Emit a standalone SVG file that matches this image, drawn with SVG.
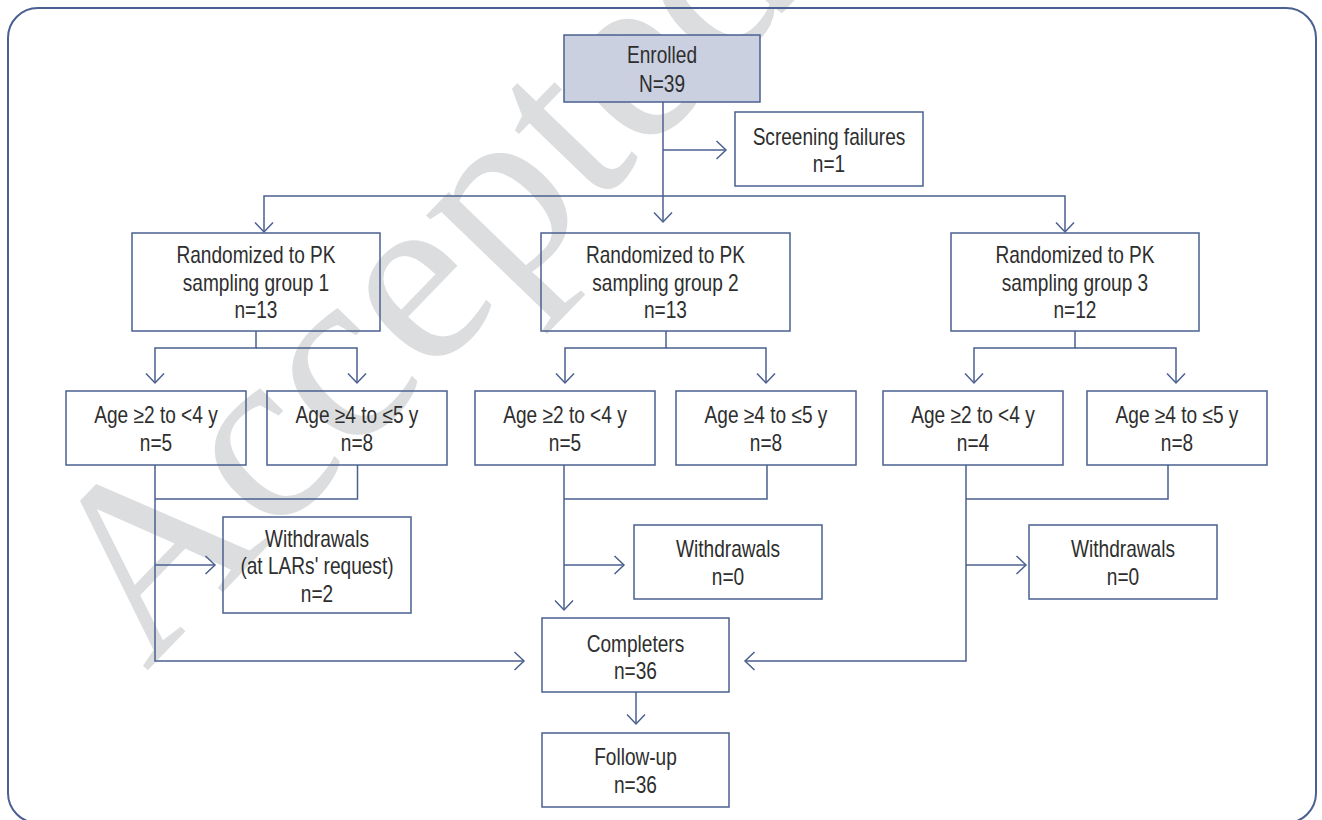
<svg xmlns="http://www.w3.org/2000/svg" width="1322" height="820" viewBox="0 0 1322 820">
<style>
.wm{font-family:"Liberation Serif","Times New Roman",serif;font-size:252px;fill:#dcdddf}
.box{fill:none;stroke:#4a6090;stroke-width:1.5}
.enr{fill:#cbd0e1;stroke:#4a6090;stroke-width:1.5}
.t{font-family:"Liberation Sans Narrow","Arial Narrow","Liberation Sans",sans-serif;font-size:23px;fill:#2e2e2e;text-anchor:middle}
.c{fill:none;stroke:#4a6090;stroke-width:1.5}
.a{marker-end:url(#ah)}
</style>
<defs>
<marker id="ah" markerUnits="userSpaceOnUse" markerWidth="14" markerHeight="22" viewBox="-12 -11 14 22" refX="0" refY="0" orient="auto">
<path d="M-9.5,-9 L0,0 L-9.5,9" fill="none" stroke="#4a6090" stroke-width="1.5"/>
</marker>
</defs>
<rect width="1322" height="820" fill="#ffffff"/>
<text class="wm" transform="translate(146,672) rotate(-46)">Accepted</text>
<rect x="8" y="8" width="1308" height="815" rx="30" ry="30" fill="none" stroke="#4a6090" stroke-width="2"/>
<g id="connectors">
<path class="c a" d="M663,102 V222"/>
<path class="c a" d="M663,150 H726"/>
<path class="c a" d="M663,196 H264 V232"/>
<path class="c a" d="M663,196 H1065 V232"/>
<path class="c a" d="M256,331 V348 H155 V383"/>
<path class="c a" d="M256,348 H357 V383"/>
<path class="c a" d="M666,331 V348 H565 V383"/>
<path class="c a" d="M666,348 H766 V383"/>
<path class="c a" d="M1075,331 V348 H974 V383"/>
<path class="c a" d="M1075,348 H1176 V383"/>
<path class="c" d="M357.5,465 V499 H155"/>
<path class="c a" d="M155,465 V661 H524"/>
<path class="c a" d="M155,565 H215"/>
<path class="c" d="M767,465 V499 H564"/>
<path class="c a" d="M564,465 V610"/>
<path class="c a" d="M564,565 H624"/>
<path class="c" d="M1168,465 V499 H966"/>
<path class="c a" d="M966,465 V661 H745"/>
<path class="c a" d="M966,565 H1026"/>
<path class="c a" d="M636,692 V724"/>
</g>
<g id="enrolled">
<rect class="enr" x="564" y="35" width="196" height="67"/>
<g transform="matrix(0.83 0 0 1 112.54 0)">
<text class="t" x="662" y="63">Enrolled</text>
<text class="t" x="662" y="92">N=39</text>
</g>
</g>
<g id="screening">
<rect class="box" x="735" y="112" width="188" height="74"/>
<g transform="matrix(0.83 0 0 1 140.93 0)">
<text class="t" x="829" y="145">Screening failures</text>
<text class="t" x="829" y="172">n=1</text>
</g>
</g>
<g id="group1">
<rect class="box" x="132" y="233" width="248" height="98"/>
<g transform="matrix(0.83 0 0 1 43.52 0)">
<text class="t" x="256" y="263">Randomized to PK</text>
<text class="t" x="256" y="291">sampling group 1</text>
<text class="t" x="256" y="318">n=13</text>
</g>
</g>
<g id="group2">
<rect class="box" x="541" y="233" width="249" height="98"/>
<g transform="matrix(0.83 0 0 1 113.135 0)">
<text class="t" x="665.5" y="263">Randomized to PK</text>
<text class="t" x="665.5" y="291">sampling group 2</text>
<text class="t" x="665.5" y="318">n=13</text>
</g>
</g>
<g id="group3">
<rect class="box" x="951" y="233" width="248" height="98"/>
<g transform="matrix(0.83 0 0 1 182.75 0)">
<text class="t" x="1075" y="263">Randomized to PK</text>
<text class="t" x="1075" y="291">sampling group 3</text>
<text class="t" x="1075" y="318">n=12</text>
</g>
</g>
<g id="g1-young">
<rect class="box" x="66" y="391" width="180" height="74"/>
<g transform="matrix(0.83 0 0 1 26.52 0)">
<text class="t" x="156" y="423">Age ≥2 to &lt;4 y</text>
<text class="t" x="156" y="451">n=5</text>
</g>
</g>
<g id="g1-old">
<rect class="box" x="267" y="391" width="180" height="74"/>
<g transform="matrix(0.83 0 0 1 60.69 0)">
<text class="t" x="357" y="423">Age ≥4 to ≤5 y</text>
<text class="t" x="357" y="451">n=8</text>
</g>
</g>
<g id="g2-young">
<rect class="box" x="475" y="391" width="180" height="74"/>
<g transform="matrix(0.83 0 0 1 96.05 0)">
<text class="t" x="565" y="423">Age ≥2 to &lt;4 y</text>
<text class="t" x="565" y="451">n=5</text>
</g>
</g>
<g id="g2-old">
<rect class="box" x="676" y="391" width="180" height="74"/>
<g transform="matrix(0.83 0 0 1 130.22 0)">
<text class="t" x="766" y="423">Age ≥4 to ≤5 y</text>
<text class="t" x="766" y="451">n=8</text>
</g>
</g>
<g id="g3-young">
<rect class="box" x="883" y="391" width="180" height="74"/>
<g transform="matrix(0.83 0 0 1 165.41 0)">
<text class="t" x="973" y="423">Age ≥2 to &lt;4 y</text>
<text class="t" x="973" y="451">n=4</text>
</g>
</g>
<g id="g3-old">
<rect class="box" x="1087" y="391" width="180" height="74"/>
<g transform="matrix(0.83 0 0 1 200.09 0)">
<text class="t" x="1177" y="423">Age ≥4 to ≤5 y</text>
<text class="t" x="1177" y="451">n=8</text>
</g>
</g>
<g id="withdrawals1">
<rect class="box" x="223" y="517" width="188" height="96"/>
<g transform="matrix(0.83 0 0 1 53.89 0)">
<text class="t" x="317" y="547">Withdrawals</text>
<text class="t" x="317" y="574">(at LARs' request)</text>
<text class="t" x="317" y="602">n=2</text>
</g>
</g>
<g id="withdrawals2">
<rect class="box" x="634" y="525" width="188" height="74"/>
<g transform="matrix(0.83 0 0 1 123.76 0)">
<text class="t" x="728" y="557">Withdrawals</text>
<text class="t" x="728" y="585">n=0</text>
</g>
</g>
<g id="withdrawals3">
<rect class="box" x="1029" y="525" width="188" height="74"/>
<g transform="matrix(0.83 0 0 1 190.91 0)">
<text class="t" x="1123" y="557">Withdrawals</text>
<text class="t" x="1123" y="585">n=0</text>
</g>
</g>
<g id="completers">
<rect class="box" x="542" y="618" width="187" height="74"/>
<g transform="matrix(0.83 0 0 1 108.035 0)">
<text class="t" x="635.5" y="652">Completers</text>
<text class="t" x="635.5" y="679">n=36</text>
</g>
</g>
<g id="followup">
<rect class="box" x="542" y="733" width="187" height="74"/>
<g transform="matrix(0.83 0 0 1 108.035 0)">
<text class="t" x="635.5" y="765">Follow-up</text>
<text class="t" x="635.5" y="793">n=36</text>
</g>
</g>
</svg>
